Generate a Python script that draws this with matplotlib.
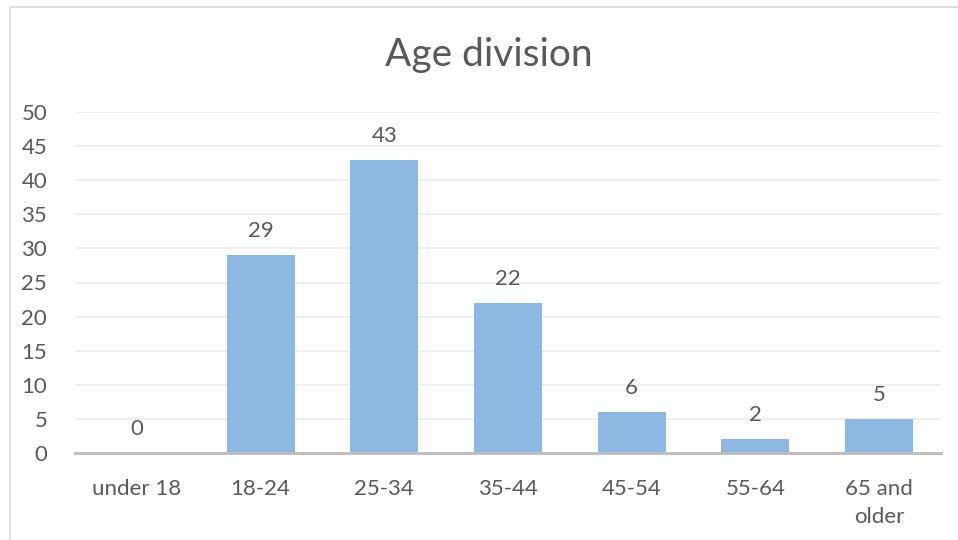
import matplotlib.pyplot as plt
from matplotlib.patches import Rectangle
import numpy as np

categories = ["under 18", "18-24", "25-34", "35-44", "45-54", "55-64", "65 and\nolder"]
values = [0, 29, 43, 22, 6, 2, 5]

plt.rcParams["font.family"] = ["Lato", "DejaVu Sans"]
text_color = "#595959"
bar_color = "#8db8e2"

fig = plt.figure(figsize=(9.58, 5.4), dpi=100)
W, H = 958, 540

# chart border (cut off at right and bottom like the reference)
fig.patches.append(Rectangle((10 / W, -0.05), 1.1, 1 - 7 / H + 0.05,
                             transform=fig.transFigure, fill=False,
                             edgecolor="#d9d9d9", linewidth=1.2))

ax = fig.add_axes([75 / W, (H - 453) / H, (941 - 75) / W, (453 - 112) / H])
x = np.arange(len(categories))
bars = ax.bar(x, values, width=0.55, color=bar_color, zorder=2)

ax.set_xlim(-0.5, len(categories) - 0.5)
ax.set_ylim(0, 50)
ax.set_yticks(range(0, 51, 5))
ax.set_xticks(x)
ax.set_xticklabels(categories, linespacing=1.45)
ax.tick_params(axis="both", length=0, labelsize=16, colors=text_color)
ax.tick_params(axis="x", pad=19)
ax.tick_params(axis="y", pad=20)

ax.grid(axis="y", color="#ececec", linewidth=1.2, zorder=0)
for side in ["top", "right", "left"]:
    ax.spines[side].set_visible(False)
ax.spines["bottom"].set_color("#bfbfbf")
ax.spines["bottom"].set_linewidth(2.2)
ax.spines["bottom"].set_zorder(3)

for xi, v in zip(x, values):
    ax.annotate(str(v), (xi, v), xytext=(0, 10), textcoords="offset points",
                ha="center", va="bottom", fontsize=16, color=text_color)

fig.text(489 / W, 1 - 55 / H, "Age division", ha="center", va="center",
         fontsize=28, color=text_color)

fig.savefig("out.png", dpi=100)
